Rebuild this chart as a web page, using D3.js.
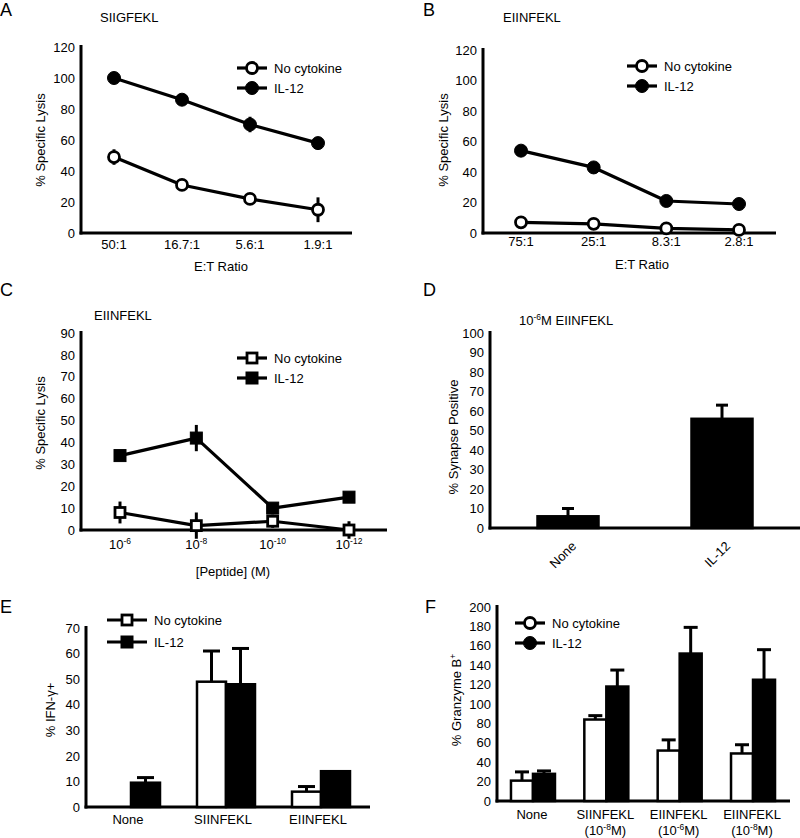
<!DOCTYPE html>
<html><head><meta charset="utf-8">
<script src="https://cdn.jsdelivr.net/npm/d3@7"></script>
<style>
body{margin:0;background:#fff}
svg text{font-family:"Liberation Sans",Arial,Helvetica,sans-serif;fill:#000}
</style></head><body>
<svg id="c" width="800" height="838"></svg>
<script>
// ---------- DATA ----------
const seriesNames = ["No cytokine", "IL-12"];

// Panel A
const catsA = ["50:1", "16.7:1", "5.6:1", "1.9:1"];
const ncA = [49, 31, 22, 15];
const ncAerr = [5, 2, 2, 8];
const ilA = [100, 86, 70, 58];
const ilAerr = [0, 3, 5, 0];
const ticksA = [0, 20, 40, 60, 80, 100, 120];

// Panel B
const catsB = ["75:1", "25:1", "8.3:1", "2.8:1"];
const ncB = [7, 6, 3, 2];
const ncBerr = [0, 0, 0, 0];
const ilB = [54, 43, 21, 19];
const ilBerr = [0, 3, 3, 0];
const ticksB = [0, 20, 40, 60, 80, 100, 120];

// Panel C
const catsC = ["-6", "-8", "-10", "-12"];
const ncC = [8, 2, 4, 0];
const ncCerr = [5, 6, 3, 4];
const ilC = [34, 42, 10, 15];
const ilCerr = [0, 6, 0, 0];
const ticksC = [0, 10, 20, 30, 40, 50, 60, 70, 80, 90];

// Panel D
const catsD = ["None", "IL-12"];
const valsD = [6, 56];
const errD = [4, 7];
const ticksD = [0, 10, 20, 30, 40, 50, 60, 70, 80, 90, 100];

// Panel E
const catsE = ["None", "SIINFEKL", "EIINFEKL"];
const ncE = [0, 49, 6];
const ncEerr = [0, 12, 2];
const ilE = [9.5, 48, 14];
const ilEerr = [2, 14, 0];
const ticksE = [0, 10, 20, 30, 40, 50, 60, 70];

// Panel F
const catsF = ["None", "SIINFEKL", "EIINFEKL", "EIINFEKL"];
const subF = [null, "-8", "-6", "-8"];
const ncF = [21, 84, 52, 49];
const ncFerr = [9, 4, 11, 9];
const ilF = [28, 118, 152, 125];
const ilFerr = [3, 17, 27, 31];
const ticksF = [0, 20, 40, 60, 80, 100, 120, 140, 160, 180, 200];

// ---------- DRAWING ----------
const svg = d3.select("#c");
const FS = 13;

function letter(t, x, y) {
  svg.append("text").attr("x", x).attr("y", y).attr("font-size", 18).text(t);
}
function text(t, x, y, anchor, size) {
  return svg.append("text").attr("x", x).attr("y", y).attr("font-size", size || FS)
    .attr("text-anchor", anchor || "start").text(t);
}
function yLabel(x, y, build) {
  const t = svg.append("text").attr("transform", `translate(${x},${y}) rotate(-90)`)
    .attr("font-size", FS).attr("text-anchor", "middle");
  build(t);
}
function axes(left, right, y0, yTop, max, ticks) {
  const y = d3.scaleLinear().domain([0, max]).range([y0, yTop]);
  const g = svg.append("g").attr("transform", `translate(${left},0)`)
    .call(d3.axisLeft(y).tickValues(ticks).tickSize(0).tickPadding(6));
  g.select(".domain").remove();
  g.selectAll("text").attr("font-size", FS).attr("font-family", "Liberation Sans, Arial, sans-serif").attr("fill", "#000");
  svg.append("line").attr("x1", left).attr("x2", left).attr("y1", yTop - 2).attr("y2", y0 + 1.5)
    .attr("stroke", "#000").attr("stroke-width", 3);
  svg.append("line").attr("x1", left - 1.5).attr("x2", right).attr("y1", y0).attr("y2", y0)
    .attr("stroke", "#000").attr("stroke-width", 3);
  return y;
}
function marker(g, shape, filled, cx, cy) {
  if (shape === "circle") {
    g.append("circle").attr("cx", cx).attr("cy", cy).attr("r", filled ? 6.5 : 5.5)
      .attr("fill", filled ? "#000" : "#fff").attr("stroke", "#000").attr("stroke-width", filled ? 1 : 2.8);
  } else {
    const s = filled ? 12 : 10;
    g.append("rect").attr("x", cx - s / 2).attr("y", cy - s / 2).attr("width", s).attr("height", s)
      .attr("fill", filled ? "#000" : "#fff").attr("stroke", "#000").attr("stroke-width", filled ? 1 : 2.8);
  }
}
function legend(x, y1, y2, shape, lineLen) {
  const L = lineLen || 30;
  [[y1, false], [y2, true]].forEach(([yy, f], i) => {
    const g = svg.append("g");
    g.append("line").attr("x1", x).attr("x2", x + L).attr("y1", yy).attr("y2", yy)
      .attr("stroke", "#000").attr("stroke-width", 3.2);
    marker(g, shape, f, x + L / 2, yy);
    text(seriesNames[i], x + L + 7, yy + 4.5, "start", 13);
  });
}
function lineSeries(x, y, cats, vals, errs, shape, filled) {
  const g = svg.append("g");
  const pts = cats.map((c, i) => [x(c), y(vals[i])]);
  g.append("path").attr("d", d3.line()(pts)).attr("fill", "none")
    .attr("stroke", "#000").attr("stroke-width", 3.2).attr("stroke-linejoin", "round");
  cats.forEach((c, i) => {
    if (errs[i] > 0) {
      g.append("line").attr("x1", x(c)).attr("x2", x(c))
        .attr("y1", y(vals[i] - errs[i])).attr("y2", y(vals[i] + errs[i]))
        .attr("stroke", "#000").attr("stroke-width", 3);
    }
  });
  cats.forEach((c, i) => marker(g, shape, filled, x(c), y(vals[i])));
}
function bar(x0, w, y, v, err, filled, cap) {
  const g = svg.append("g");
  if (err > 0) {
    g.append("line").attr("x1", x0 + w / 2).attr("x2", x0 + w / 2).attr("y1", y(v)).attr("y2", y(v + err))
      .attr("stroke", "#000").attr("stroke-width", 3);
    g.append("line").attr("x1", x0 + w / 2 - cap / 2).attr("x2", x0 + w / 2 + cap / 2)
      .attr("y1", y(v + err)).attr("y2", y(v + err)).attr("stroke", "#000").attr("stroke-width", 3);
  }
  g.append("rect").attr("x", x0).attr("y", y(v)).attr("width", w).attr("height", y(0) - y(v))
    .attr("fill", filled ? "#000" : "#fff").attr("stroke", "#000").attr("stroke-width", 2.5);
}

// ---- Panel A ----
letter("A", 0, 16);
text("SIIGFEKL", 100, 22, "start", 13);
{
  const y = axes(81, 352, 233, 47, 120, ticksA);
  const x = d3.scalePoint().domain(catsA).range([114, 318]);
  catsA.forEach(c => text(c, x(c), 249, "middle"));
  text("E:T Ratio", 221, 271, "middle");
  yLabel(45, 140, t => t.text("% Specific Lysis"));
  lineSeries(x, y, catsA, ncA, ncAerr, "circle", false);
  lineSeries(x, y, catsA, ilA, ilAerr, "circle", true);
  legend(237, 68, 88, "circle");
}

// ---- Panel B ----
letter("B", 423, 16);
text("EIINFEKL", 503, 22, "start", 13);
{
  const y = axes(483, 776, 233, 50, 120, ticksB);
  const x = d3.scalePoint().domain(catsB).range([521, 739]);
  catsB.forEach(c => text(c, x(c), 246, "middle"));
  text("E:T Ratio", 642, 269, "middle");
  yLabel(448, 140, t => t.text("% Specific Lysis"));
  lineSeries(x, y, catsB, ncB, ncBerr, "circle", false);
  lineSeries(x, y, catsB, ilB, ilBerr, "circle", true);
  legend(627, 66, 86, "circle");
}

// ---- Panel C ----
letter("C", 0, 296);
text("EIINFEKL", 94, 320, "start", 13);
{
  const y = axes(81, 387, 530, 333, 90, ticksC);
  const x = d3.scalePoint().domain(catsC).range([120, 349]);
  catsC.forEach(c => {
    const t = text("", x(c), 549, "middle");
    t.append("tspan").text("10");
    t.append("tspan").attr("dy", -5).attr("font-size", 8.5).text(c);
  });
  text("[Peptide] (M)", 233, 576, "middle");
  yLabel(45, 423, t => t.text("% Specific Lysis"));
  lineSeries(x, y, catsC, ncC, ncCerr, "square", false);
  lineSeries(x, y, catsC, ilC, ilCerr, "square", true);
  legend(237, 358, 378, "square");
}

// ---- Panel D ----
letter("D", 423, 296);
{
  const t = text("", 519, 325, "start", 13);
  t.append("tspan").text("10");
  t.append("tspan").attr("dy", -5).attr("font-size", 8.5).text("-6");
  t.append("tspan").attr("dy", 5).text("M EIINFEKL");
}
{
  const y = axes(490, 800, 528, 333, 100, ticksD);
  const x = d3.scaleBand().domain(catsD).range([491, 799]);
  const w = 61;
  catsD.forEach((c, i) => {
    const cx = x(c) + x.bandwidth() / 2;
    bar(cx - w / 2, w, y, valsD[i], errD[i], true, 12);
    svg.append("text").attr("transform", `translate(${cx + 9},${547}) rotate(-45)`)
      .attr("font-size", FS).attr("text-anchor", "end").text(c);
  });
  yLabel(458, 437, t => t.text("% Synapse Positive"));
}

// ---- Panel E ----
letter("E", 0, 613);
{
  const y = axes(86, 370, 807, 628, 70, ticksE);
  const x = d3.scaleBand().domain(catsE).range([83.5, 368.5]);
  const w = 29;
  catsE.forEach((c, i) => {
    const cx = x(c) + x.bandwidth() / 2;
    bar(cx - w, w, y, ncE[i], ncEerr[i], false, 17);
    bar(cx, w, y, ilE[i], ilEerr[i], true, 17);
    text(c, cx - 3, 824, "middle");
  });
  yLabel(55, 710, t => t.text("% IFN-γ+"));
  legend(107, 620, 642, "square", 40);
}

// ---- Panel F ----
letter("F", 425, 613);
{
  const y = axes(497, 790, 801, 607, 200, ticksF);
  const x = d3.scaleBand().domain(d3.range(catsF.length)).range([496.3, 789.7]);
  const w = 22;
  catsF.forEach((c, i) => {
    const cx = x(i) + x.bandwidth() / 2;
    bar(cx - w, w, y, ncF[i], ncFerr[i], false, 14);
    bar(cx, w, y, ilF[i], ilFerr[i], true, 14);
    text(c, cx - 1, 819, "middle");
    if (subF[i]) {
      const t = text("", cx - 1, 835, "middle");
      t.append("tspan").text("(10");
      t.append("tspan").attr("dy", -5).attr("font-size", 8.5).text(subF[i]);
      t.append("tspan").attr("dy", 5).text("M)");
    }
  });
  yLabel(461, 700, t => {
    t.append("tspan").text("% Granzyme B");
    t.append("tspan").attr("dy", -5).attr("font-size", 8.5).text("+");
  });
  legend(515, 623, 643, "circle");
}
</script>
</body></html>
